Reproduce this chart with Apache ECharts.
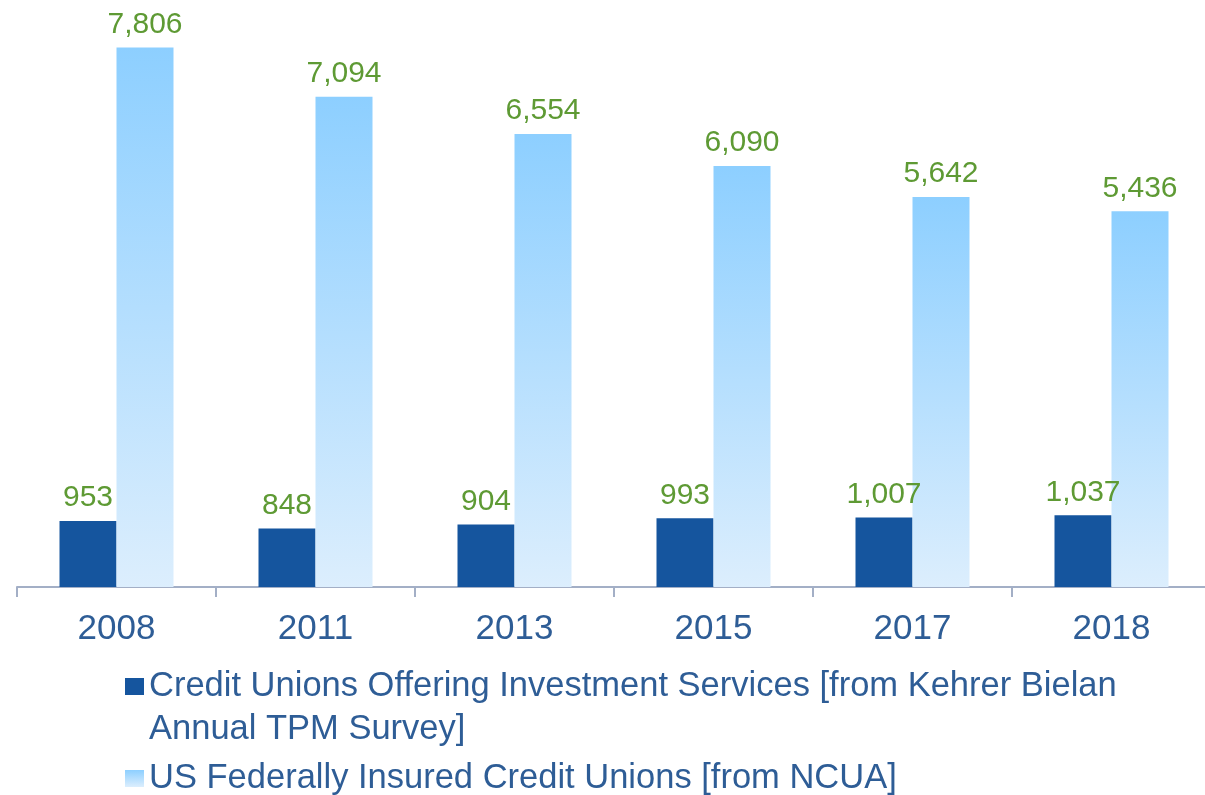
<!DOCTYPE html>
<html>
<head>
<meta charset="utf-8">
<script src="https://cdn.jsdelivr.net/npm/echarts@6/dist/echarts.min.js"></script>
<style>html,body{margin:0;padding:0;background:#fff}#c{width:1205px;height:795px}</style>
</head>
<body>
<div id="c"></div>
<script>
const categories = ['2008', '2011', '2013', '2015', '2017', '2018'];
const investmentServices = [953, 848, 904, 993, 1007, 1037];
const insuredCreditUnions = [7806, 7094, 6554, 6090, 5642, 5436];
const seriesNames = [
  'Credit Unions Offering Investment Services [from Kehrer Bielan Annual TPM Survey]',
  'US Federally Insured Credit Unions [from NCUA]'
];

const chart = echarts.init(document.getElementById('c'));
const labelStyle = {
  show: true, position: 'top', distance: 8,
  color: '#5E9A34', fontFamily: 'Liberation Sans', fontSize: 30,
  formatter: p => p.value.toLocaleString('en-US')
};
chart.setOption({
  animation: false,
  grid: { left: 17, width: 1194, top: 34, bottom: 208, outerBoundsMode: 'none', containLabel: false },
  xAxis: {
    type: 'category', data: categories,
    axisLine: { lineStyle: { color: '#A3AFC6', width: 2 } },
    axisTick: { show: true, length: 10, lineStyle: { color: '#A3AFC6', width: 2 } },
    axisLabel: { color: '#2E5D96', fontFamily: 'Liberation Sans', fontSize: 35, margin: 25 }
  },
  yAxis: { type: 'value', min: 0, max: 8000, show: false, splitLine: { show: false } },
  legend: {
    orient: 'vertical', left: 120, top: 617,
    itemWidth: 19, itemHeight: 17, itemGap: 6, icon: 'rect',
    data: seriesNames,
    formatter: name => name === seriesNames[0]
      ? '\nCredit Unions Offering Investment Services [from Kehrer Bielan\nAnnual TPM Survey]'
      : name,
    textStyle: { color: '#2E5D96', fontFamily: 'Liberation Sans', fontSize: 34.5, lineHeight: 43, padding: [0, 0, 0, 0] }
  },
  series: [
    {
      name: seriesNames[0], type: 'bar', data: investmentServices,
      barWidth: 57, barGap: '0%',
      itemStyle: { color: '#15559E' },
      label: labelStyle
    },
    {
      name: seriesNames[1], type: 'bar', data: insuredCreditUnions,
      barWidth: 57,
      itemStyle: {
        color: new echarts.graphic.LinearGradient(0, 0, 0, 1, [
          { offset: 0, color: '#8DCFFF' },
          { offset: 1, color: '#DCEEFD' }
        ])
      },
      label: labelStyle
    }
  ]
});
</script>
</body>
</html>
